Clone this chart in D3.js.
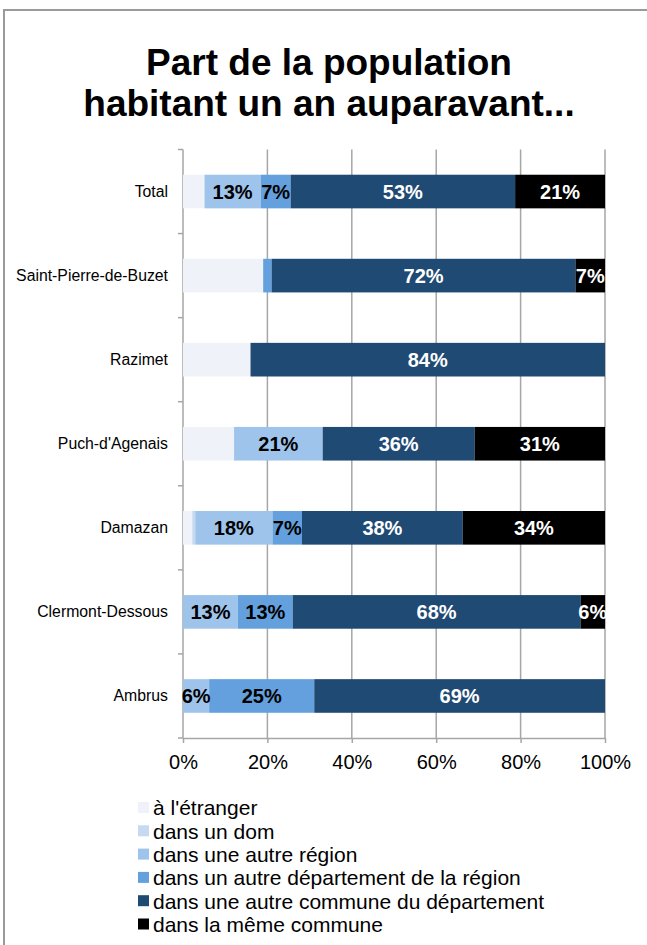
<!DOCTYPE html>
<html>
<head>
<meta charset="utf-8">
<title>Part de la population habitant un an auparavant</title>
<style>
body { margin: 0; background: #fff; }
text { font-family: Arial, "Liberation Sans", Helvetica, sans-serif; }
.grid line { stroke: #a6a6a6; stroke-width: 1.5px; }
.axis path, .axis line { stroke: #a6a6a6; stroke-width: 1.5px; }
.axis text { fill: #000; }
</style>
</head>
<body>
<script src="https://cdn.jsdelivr.net/npm/d3@7"></script>
<script>

// communes, top to bottom
var communes = ["Total", "Saint-Pierre-de-Buzet", "Razimet", "Puch-d'Agenais", "Damazan", "Clermont-Dessous", "Ambrus"];

// series names (legend order = stacking order)
var series = ["à l'étranger", "dans un dom", "dans une autre région",
              "dans un autre département de la région",
              "dans une autre commune du département", "dans la même commune"];

// values per series, same order as communes (in %)
var etranger   = [5.1, 19.0, 16.0, 12.1, 2.2, 0.0, 0.0];
var dom        = [0.0, 0.0, 0.0, 0.0, 0.7, 0.0, 0.0];
var autreRegion = [13.3, 0.0, 0.0, 21.0, 18.3, 13.0, 6.2];
var autreDep   = [7.1, 2.0, 0.0, 0.0, 7.0, 13.0, 24.9];
var autreCommune = [53.2, 72.0, 84.0, 36.0, 38.1, 68.2, 68.9];
var memeCommune = [21.3, 7.0, 0.0, 30.9, 33.7, 5.8, 0.0];

var colors = ["#eff3f9", "#c6d9f1", "#9fc4eb", "#63a0dd", "#1f4a74", "#000000"];
var labelColors = [null, null, "#000", "#000", "#fff", "#fff"];

var xTicks = [0, 20, 40, 60, 80, 100];

var table = communes.map(function(c, i) {
  return {
    commune: c,
    s0: etranger[i], s1: dom[i], s2: autreRegion[i],
    s3: autreDep[i], s4: autreCommune[i], s5: memeCommune[i]
  };
});
var keys = ["s0", "s1", "s2", "s3", "s4", "s5"];

var W = 647, H = 945;
var margin = {top: 149.5, left: 183, right: 42, bottom: 207};

var svg = d3.select("body").append("svg")
    .attr("width", W)
    .attr("height", H);

// outer frame
svg.append("rect")
    .attr("x", 4).attr("y", 10)
    .attr("width", 720).attr("height", 1000)
    .attr("fill", "none")
    .attr("stroke", "#9a9a9a")
    .attr("stroke-width", 2);

// title
svg.append("text")
    .attr("x", 329).attr("y", 75)
    .attr("text-anchor", "middle")
    .style("font-size", "37px").style("font-weight", "bold")
    .text("Part de la population");
svg.append("text")
    .attr("x", 329).attr("y", 116)
    .attr("text-anchor", "middle")
    .style("font-size", "37px").style("font-weight", "bold")
    .text("habitant un an auparavant...");

var x = d3.scaleLinear().domain([0, 100]).range([margin.left, W - margin.right]);
var y = d3.scaleBand().domain(communes)
    .range([margin.top, H - margin.bottom])
    .paddingInner(0.6).paddingOuter(0.3);

// vertical gridlines
svg.append("g").attr("class", "grid")
  .selectAll("line")
  .data(xTicks.slice(1))
  .enter().append("line")
    .attr("x1", function(d) { return x(d); })
    .attr("x2", function(d) { return x(d); })
    .attr("y1", margin.top)
    .attr("y2", H - margin.bottom);

// x axis
var xAxis = svg.append("g").attr("class", "axis")
    .attr("transform", "translate(0," + (H - margin.bottom) + ")")
    .call(d3.axisBottom(x).tickValues(xTicks).tickSize(5).tickSizeOuter(0)
          .tickFormat(function(d) { return d + "%"; }));
xAxis.selectAll("text").style("font-size", "20px").attr("dy", "1.15em");

// y axis with ticks between categories
var step = y.step();
var yAxisG = svg.append("g").attr("class", "axis");
yAxisG.append("line")
    .attr("x1", margin.left).attr("x2", margin.left)
    .attr("y1", margin.top).attr("y2", H - margin.bottom);
yAxisG.selectAll(".tk")
  .data(d3.range(communes.length + 1))
  .enter().append("line")
    .attr("class", "tk")
    .attr("x1", margin.left - 5).attr("x2", margin.left)
    .attr("y1", function(i) { return margin.top + i * step; })
    .attr("y2", function(i) { return margin.top + i * step; });
yAxisG.selectAll("text")
  .data(communes)
  .enter().append("text")
    .attr("x", margin.left - 15)
    .attr("y", function(d) { return y(d) + y.bandwidth() / 2; })
    .attr("dy", "0.35em")
    .attr("text-anchor", "end")
    .style("font-size", "15.8px")
    .text(function(d) { return d; });

// stacked bars
var stacked = d3.stack().keys(keys)(table);

var layer = svg.append("g").selectAll("g")
  .data(stacked)
  .enter().append("g")
    .attr("fill", function(d, i) { return colors[i]; });

layer.selectAll("rect")
  .data(function(d) { return d; })
  .enter().append("rect")
    .attr("x", function(d) { return x(d[0]); })
    .attr("y", function(d) { return y(d.data.commune); })
    .attr("width", function(d) { return x(d[1]) - x(d[0]); })
    .attr("height", y.bandwidth());

// value labels
stacked.forEach(function(s, i) {
  if (!labelColors[i]) return;
  svg.append("g").selectAll("text")
    .data(s.filter(function(d) { return d[1] - d[0] >= 4; }))
    .enter().append("text")
      .attr("x", function(d) { return x((d[0] + d[1]) / 2); })
      .attr("y", function(d) { return y(d.data.commune) + y.bandwidth() / 2; })
      .attr("dy", "0.36em")
      .attr("text-anchor", "middle")
      .style("font-size", "20px").style("font-weight", "bold")
      .attr("fill", labelColors[i])
      .text(function(d) { return Math.round(d[1] - d[0]) + "%"; });
});

// legend
var legend = svg.append("g").selectAll("g")
  .data(series)
  .enter().append("g")
    .attr("transform", function(d, i) { return "translate(138," + (808 + i * 23.3) + ")"; });
legend.append("rect")
    .attr("x", 0).attr("y", -6)
    .attr("width", 11).attr("height", 11)
    .attr("fill", function(d, i) { return colors[i]; });
legend.append("text")
    .attr("x", 15).attr("y", 0)
    .attr("dy", "0.35em")
    .style("font-size", "21px")
    .text(function(d) { return d; });

</script>
</body>
</html>
